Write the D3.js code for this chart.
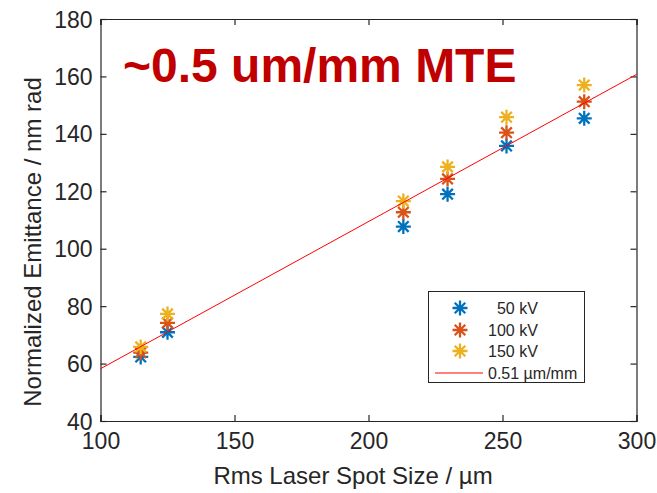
<!DOCTYPE html>
<html><head><meta charset="utf-8">
<script src="https://cdn.jsdelivr.net/npm/d3@7/dist/d3.min.js"></script>
<style>
body{margin:0;background:#fff;}
text{font-family:"Liberation Sans",Arial,sans-serif;fill:#262626;}
</style></head>
<body><svg id="chart" width="657" height="493"></svg>
<script>
const spotSize = [115, 125, 213, 229.5, 251.5, 280.5];
const emit50  = [62.3, 70.9, 107.7, 119.0, 135.8, 145.4];
const emit100 = [63.8, 74.2, 112.7, 124.3, 140.4, 151.2];
const emit150 = [65.8, 77.3, 116.6, 128.5, 145.8, 157.0];
const seriesNames = ["\u200750 kV", "100 kV", "150 kV"];
const seriesColors = ["#0072BD", "#D95319", "#EDB120"];
const fitX = [100, 300];
const fitY = [58.2, 160.7];
const fitName = "0.51 \u00b5m/mm";
const xTicks = [100, 150, 200, 250, 300];
const yTicks = [40, 60, 80, 100, 120, 140, 160, 180];
const titleText = "~0.5 um/mm MTE";
const xLabel = "Rms Laser Spot Size / \u00b5m";
const yLabel = "Normalized Emittance / nm rad";

const svg = d3.select("#chart");
const L = 100.5, R = 636.5, T = 19, B = 421;
const x = d3.scaleLinear().domain([100, 300]).range([L, R]);
const y = d3.scaleLinear().domain([40, 180]).range([B, T]);
const axc = "#262626";

function star(r) {
  const d = r * 0.7071;
  return `M${-r},0L${r},0M0,${-r}L0,${r}M${-d},${-d}L${d},${d}M${-d},${d}L${d},${-d}`;
}

// axes
const tl = 6;
const gx = svg.append("g").attr("transform", `translate(0,${B})`)
  .call(d3.axisBottom(x).tickValues(xTicks).tickSize(-tl).tickPadding(12));
const gx2 = svg.append("g").attr("transform", `translate(0,${T})`)
  .call(d3.axisTop(x).tickValues(xTicks).tickSize(-tl).tickFormat(""));
const gy = svg.append("g").attr("transform", `translate(${L},0)`)
  .call(d3.axisLeft(y).tickValues(yTicks).tickSize(-tl).tickPadding(8));
const gy2 = svg.append("g").attr("transform", `translate(${R},0)`)
  .call(d3.axisRight(y).tickValues(yTicks).tickSize(-tl).tickFormat(""));
[gx, gx2, gy, gy2].forEach(g => {
  g.select(".domain").attr("stroke", axc).attr("stroke-width", 1.2);
  g.selectAll(".tick line").attr("stroke", axc).attr("stroke-width", 1.2);
  g.selectAll(".tick text").attr("fill", axc).style("font-size", "23px")
    .style("font-family", '"Liberation Sans",Arial,sans-serif');
});
gx.selectAll(".tick text").attr("dy", "0.71em");
gy.selectAll(".tick text").attr("dy", "0.35em");

// markers
const seriesVals = [emit50, emit100, emit150];
seriesVals.forEach((vals, i) => {
  svg.append("g").selectAll("path").data(vals).join("path")
    .attr("d", star(7.5))
    .attr("transform", (v, j) => `translate(${x(spotSize[j])},${y(v)})`)
    .attr("stroke", seriesColors[i]).attr("stroke-width", 2.3).attr("fill", "none");
});

// fit line
svg.append("path")
  .datum(fitX.map((v, i) => [v, fitY[i]]))
  .attr("d", d3.line().x(d => x(d[0])).y(d => y(d[1])))
  .attr("stroke", "#FF0000").attr("stroke-width", 1).attr("fill", "none");

// title
svg.append("text").attr("x", 123).attr("y", 82).text(titleText)
  .style("font-size", "48px").style("font-weight", "bold").style("fill", "#C00000");

// axis labels
svg.append("text").attr("x", 353).attr("y", 484).attr("text-anchor", "middle")
  .style("font-size", "24px").text(xLabel);
svg.append("text").attr("transform", `translate(41,242) rotate(-90)`)
  .attr("text-anchor", "middle").style("font-size", "24px").text(yLabel);

// legend
const lg = svg.append("g");
lg.append("rect").attr("x", 428.5).attr("y", 291.5).attr("width", 156).attr("height", 91)
  .attr("fill", "#fff").attr("stroke", axc).attr("stroke-width", 1);
const rowY = [308, 330, 351, 373];
seriesNames.forEach((n, i) => {
  lg.append("path").attr("d", star(7.5)).attr("transform", `translate(460,${rowY[i]})`)
    .attr("stroke", seriesColors[i]).attr("stroke-width", 2.3).attr("fill", "none");
  lg.append("text").attr("x", 488).attr("y", rowY[i]).attr("dy", "0.35em")
    .style("font-size", "16px").text(n);
});
lg.append("line").attr("x1", 435).attr("x2", 483).attr("y1", rowY[3]).attr("y2", rowY[3])
  .attr("stroke", "#FF0000").attr("stroke-width", 1);
lg.append("text").attr("x", 488).attr("y", rowY[3]).attr("dy", "0.35em")
  .style("font-size", "16px").text(fitName);
</script></body></html>
